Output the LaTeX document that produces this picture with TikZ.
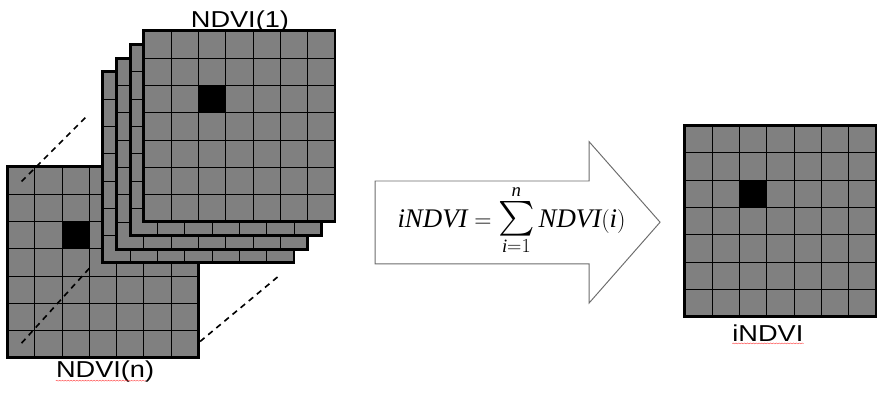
\documentclass[tikz,border=0pt]{standalone}
\usepackage{amsmath}
\usepackage{fontspec}
\setmainfont{Liberation Serif}
\setsansfont{Liberation Sans}
\usetikzlibrary{decorations.pathmorphing}

\newcommand{\ndvigrid}[2]{%
    \fill[gray] (#1, #2) rectangle ++(7, 7);
    \fill[black] (#1+2, #2+4) rectangle ++(1, 1);
    \foreach \k in {1,...,6} {
	\draw[cellline] (#1+\k, #2) -- ++(0, 7);
	\draw[cellline] (#1, #2+\k) -- ++(7, 0);
    }
    \draw[line width=3pt] (#1, #2) rectangle ++(7, 7);
}

\tikzset{
    cellline/.style={line width=0.9pt},
    lbl/.style={font=\sffamily\fontsize{24}{24}\selectfont, inner sep=0pt,
	anchor=base, xscale=1.18, transform shape},
    wavy/.style={draw=red!75!white, line width=0.4pt, decorate,
	decoration={snake, amplitude=0.5pt, segment length=3pt}},
    gap/.style={line width=1.7pt, dash pattern=on 6pt off 5pt}
}

\begin{document}
\begin{tikzpicture}
    \useasboundingbox (0, 0) rectangle (32.31, 14.43);

    % last image, then the stack in front of it
    \ndvigrid{0.27}{1.32}
    \foreach \s in {3,2,1,0}
	\ndvigrid{5.27-0.5*\s}{6.30-0.5*\s};
    \node[lbl] (ndvi1) at (8.79, 13.41) {NDVI(1)};
    \node[lbl] (ndvin) at (3.85, 0.59) {NDVI(n)};
    \draw[wavy] ([yshift=-3pt]ndvin.base west) -- ([xshift=-9pt, yshift=-3pt]ndvin.base east);

    \coordinate (a1) at (0.79, 7.78);
    \coordinate (a2) at (3.23, 10.22);
    \coordinate (b1) at (0.79, 1.86);
    \coordinate (b2) at (3.27, 4.60);
    \coordinate (c1) at (7.33, 1.92);
    \coordinate (c2) at (10.26, 4.36);
    \draw[gap] (a1) -- (a2);
    \draw[gap] (b1) -- (b2);
    \draw[gap] (c1) -- (c2);

    % arrow with the sum
    \draw[draw=gray!85!black, fill=white, line width=1pt] (13.74, 4.76) -- (13.74, 7.80)
	-- (21.58, 7.80) -- (21.58, 9.24) -- (24.18, 6.29)
	-- (21.58, 3.33) -- (21.58, 4.76) -- cycle;
    \node[anchor=base, inner sep=0pt, font=\fontsize{28}{34}\selectfont] (sumtxt) at (18.74, 6.11)
	{$\textit{iNDVI} = \mathop{\scalebox{1.45}{$\sum$}}\limits_{\textit{i}=1}^{\textit{n}} \textit{NDVI}(\textit{i})$};

    % result
    \ndvigrid{25.09}{2.83}
    \node[lbl] (indvi) at (28.13, 1.92) {iNDVI};
    \draw[wavy] ([yshift=-2pt]indvi.base west) -- ([yshift=-2pt]indvi.base east);
\end{tikzpicture}
\end{document}
